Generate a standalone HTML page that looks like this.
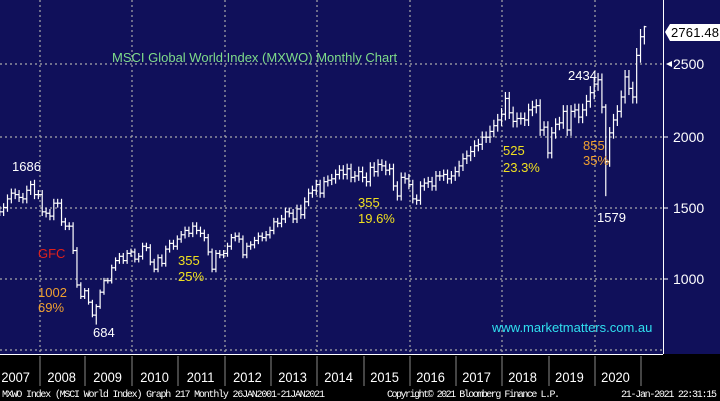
<!DOCTYPE html><html><head><style>
body{margin:0;background:#000;width:720px;height:401px;overflow:hidden;font-family:"Liberation Sans",sans-serif}
svg{display:block}
</style></head><body>
<svg id="s" width="720" height="401" xmlns="http://www.w3.org/2000/svg">
<rect width="720" height="401" fill="#000"/>
<rect width="720" height="354" fill="#10105a"/>
<line x1="0" y1="354.5" x2="663" y2="354.5" stroke="#fff" stroke-width="1"/>
<line x1="663.5" y1="0" x2="663.5" y2="354" stroke="#fff"/>
<g stroke="#aaa" stroke-dasharray="2,3" stroke-width="1.2">
<line x1="0" y1="64" x2="663" y2="64"/><line x1="0" y1="137" x2="663" y2="137"/>
<line x1="0" y1="208" x2="663" y2="208"/><line x1="0" y1="279" x2="663" y2="279"/>
<line x1="0" y1="350" x2="663" y2="350"/>
<line x1="40" y1="0" x2="40" y2="354"/><line x1="132" y1="0" x2="132" y2="354"/>
<line x1="225" y1="0" x2="225" y2="354"/><line x1="317" y1="0" x2="317" y2="354"/>
<line x1="410" y1="0" x2="410" y2="354"/><line x1="502" y1="0" x2="502" y2="354"/>
<line x1="595" y1="0" x2="595" y2="354"/>
</g>
<g stroke="#fff"><line x1="663" y1="137" x2="668" y2="137"/><line x1="663" y1="208" x2="668" y2="208"/><line x1="663" y1="279" x2="668" y2="279"/></g>
<g stroke="#888"><line x1="40" y1="356" x2="40" y2="386"/><line x1="85" y1="356" x2="85" y2="386"/><line x1="132" y1="356" x2="132" y2="386"/><line x1="178" y1="356" x2="178" y2="386"/><line x1="225" y1="356" x2="225" y2="386"/><line x1="271" y1="356" x2="271" y2="386"/><line x1="317" y1="356" x2="317" y2="386"/><line x1="364" y1="356" x2="364" y2="386"/><line x1="410" y1="356" x2="410" y2="386"/><line x1="456" y1="356" x2="456" y2="386"/><line x1="502" y1="356" x2="502" y2="386"/><line x1="549" y1="356" x2="549" y2="386"/><line x1="595" y1="356" x2="595" y2="386"/><line x1="641" y1="356" x2="641" y2="386"/></g>
<g fill="#fff" font-size="14" text-anchor="middle" transform="scale(0.92,1)">
<text x="17" y="382">2007</text><text x="67" y="382">2008</text><text x="117" y="382">2009</text><text x="168" y="382">2010</text><text x="218" y="382">2011</text><text x="269" y="382">2012</text><text x="318" y="382">2013</text><text x="368" y="382">2014</text><text x="418" y="382">2015</text><text x="468" y="382">2016</text><text x="518" y="382">2017</text><text x="568" y="382">2018</text><text x="619" y="382">2019</text><text x="669" y="382">2020</text>
</g>
<g fill="#fff" font-size="10" font-family="Liberation Mono,monospace">
<text x="2" y="397" textLength="323">MXWO Index (MSCI World Index) Graph 217  Monthly 26JAN2001-21JAN2021</text>
<text x="387" y="397" textLength="173">Copyright© 2021 Bloomberg Finance L.P.</text>
<text x="621" y="397" textLength="96">21-Jan-2021 22:31:15</text>
</g>
<g id="bars" stroke="#fff" stroke-width="1.2"></g>
<path d="M665 32 L670 24 H720 V41 H670 Z" fill="#fff"/>
<text x="671" y="37" font-size="13" fill="#000" textLength="48">2761.48</text>
<path d="M666 64 L672 61 V67Z" fill="#fff"/>
<g fill="#fff" font-size="14"><text x="673" y="69">2500</text><text x="673" y="142">2000</text><text x="673" y="213">1500</text><text x="673" y="284">1000</text></g>
<g font-size="13">
<text x="112" y="62" fill="#7fdc8a">MSCI Global World Index (MXWO) Monthly Chart</text>
<text x="12" y="171" fill="#fff">1686</text>
<text x="38" y="258" fill="#e0201a">GFC</text>
<text x="38" y="297" fill="#f0a030">1002</text><text x="38" y="312" fill="#f0a030">69%</text>
<text x="93" y="337" fill="#fff">684</text>
<text x="178" y="265" fill="#f0e020">355</text><text x="178" y="281" fill="#f0e020">25%</text>
<text x="358" y="207" fill="#f0e020">355</text><text x="358" y="223" fill="#f0e020">19.6%</text>
<text x="503" y="155" fill="#f0e020">525</text><text x="503" y="172" fill="#f0e020">23.3%</text>
<text x="583" y="150" fill="#f0a030">855</text><text x="583" y="165" fill="#f0a030">35%</text>
<text x="568" y="80" fill="#fff">2434</text>
<text x="597" y="222" fill="#fff">1579</text>
<text x="492" y="332" fill="#30e0f0">www.marketmatters.com.au</text>
</g>
</svg>
<script>
var c=[1480,1470,1500,1560,1600,1590,1570,1560,1620,1660,1590,1590,
1470,1460,1440,1530,1530,1400,1370,1370,1200,960,880,920,
840,750,810,910,990,990,1080,1130,1160,1130,1180,1190,
1140,1160,1230,1220,1120,1070,1150,1110,1210,1250,1230,1280,
1310,1340,1320,1370,1340,1320,1290,1190,1070,1180,1170,1180,
1230,1290,1300,1280,1170,1230,1240,1270,1300,1290,1310,1340,
1400,1390,1420,1470,1460,1420,1490,1450,1540,1600,1620,1660,
1600,1680,1690,1700,1730,1760,1730,1770,1710,1720,1750,1710,
1680,1780,1750,1800,1790,1760,1770,1650,1580,1710,1700,1660,
1560,1550,1650,1670,1680,1650,1720,1720,1730,1700,1720,1750,
1790,1840,1860,1890,1930,1940,1990,1990,2030,2070,2110,2150,
2260,2160,2100,2120,2120,2110,2180,2200,2210,2040,2060,1880,
2020,2080,2090,2170,2040,2170,2180,2130,2180,2240,2300,2360,
2390,2200,1820,2020,2110,2170,2270,2410,2330,2270,2560,2690,2760];
function y(v){return 64+(2500-v)*0.1435}
var g=document.getElementById('bars'),h='',o=1440;
for(var i=0;i<c.length;i++){var x=-6+i*3.86+1.9,cl=c[i];
var hi=Math.max(o,cl)*1.02,lo=Math.min(o,cl)*0.98;
if(i==9)hi=1686;if(i==26)lo=684;if(i==158){lo=1579;hi=2220;}if(i==157)hi=2434;if(i==168)hi=2766;
h+='<line x1="'+x+'" y1="'+y(hi)+'" x2="'+x+'" y2="'+y(lo)+'"/>'+
'<line x1="'+(x-2)+'" y1="'+y(o)+'" x2="'+x+'" y2="'+y(o)+'"/>'+
'<line x1="'+x+'" y1="'+y(cl)+'" x2="'+(x+2)+'" y2="'+y(cl)+'"/>';o=cl;}
g.innerHTML=h;
</script>
</body></html>
